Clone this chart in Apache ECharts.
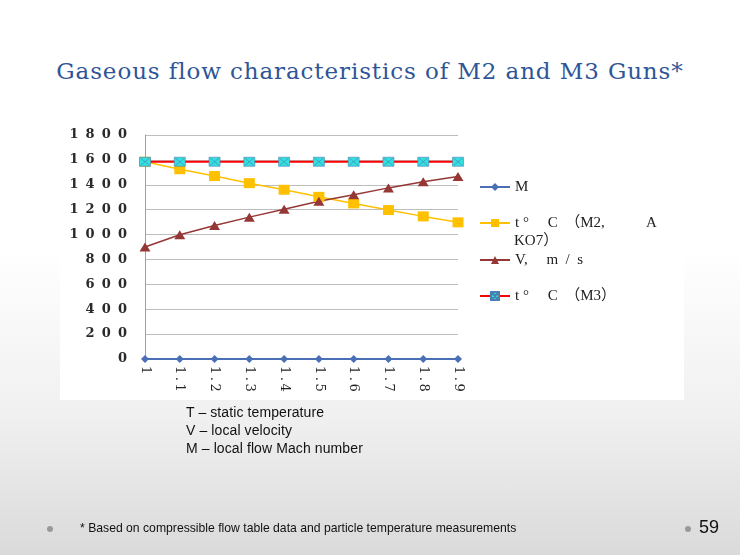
<!DOCTYPE html>
<html>
<head>
<meta charset="utf-8">
<script src="https://cdn.jsdelivr.net/npm/echarts@6/dist/echarts.min.js"></script>
<style>
  html, body { margin: 0; padding: 0; }
  body {
    width: 740px; height: 555px; overflow: hidden; position: relative;
    background: linear-gradient(to bottom, #ffffff 0%, #ffffff 45%, #f0f0f0 75%, #dadada 100%);
    font-family: "Liberation Sans", Arial, sans-serif;
  }
  #title {
    position: absolute; left: 0; width: 740px; top: 58px; text-align: center;
    font-family: "DejaVu Serif", "Liberation Serif", serif; font-size: 23px; color: #2e5597;
    letter-spacing: 0.9px;
  }
  #panel { position: absolute; left: 60px; top: 118px; width: 624px; height: 282px; background: #fff; }
  #chart { position: absolute; left: 0; top: 0; width: 740px; height: 555px; }
  .notes { position: absolute; left: 186px; top: 403px; font-size: 14px; line-height: 18px; color: #111; letter-spacing: 0.1px; }
  .foot { position: absolute; left: 80px; top: 521px; font-size: 12.2px; color: #111; }
  .dot { position: absolute; width: 6px; height: 6px; border-radius: 3px; background: #999; }
  .page { position: absolute; left: 699px; top: 517px; font-size: 18px; color: #111; }
</style>
</head>
<body>
<div id="title">Gaseous flow characteristics of M2 and M3 Guns*</div>
<div id="panel"></div>
<div id="chart"></div>
<div class="notes">T – static temperature<br>V – local velocity<br>M – local flow Mach number</div>
<div class="dot" style="left:47px;top:526px"></div>
<div class="foot">* Based on compressible flow table data and particle temperature measurements</div>
<div class="dot" style="left:685px;top:526px"></div>
<div class="page">59</div>
<script>
// Mach number categories
var categories = ['1', '1.1', '1.2', '1.3', '1.4', '1.5', '1.6', '1.7', '1.8', '1.9'];
var machVals = [0, 0, 0, 0, 0, 0, 0, 0, 0, 0];
var tempM2 = [1585, 1525, 1470, 1413, 1360, 1303, 1250, 1197, 1146, 1098];
var velocity = [900, 998, 1072, 1140, 1204, 1268, 1320, 1375, 1425, 1467];
var tempM3 = [1585, 1585, 1585, 1585, 1585, 1585, 1585, 1585, 1585, 1585];
var yTicks = [0, 200, 400, 600, 800, 1000, 1200, 1400, 1600, 1800];

var names = ['M', 't °\u3000 C  （M2,\u3000\u3000   A\nKO7）', 'V,\u3000 m  /  s', 't °\u3000 C  （M3）'];
var serif = '"Liberation Serif", "Noto Sans CJK SC", serif';
var digits = '"DejaVu Serif", serif';

// spread characters apart like the wide SimSun digits in the original
function spread(s, gap) { return s.split('').join(gap); }

var chart = echarts.init(document.getElementById('chart'), null, { renderer: 'canvas' });

function legendAt(name, top) {
  return {
    data: [name],
    left: 479, top: top, orient: 'vertical', padding: 0,
    itemWidth: 30, itemHeight: 10, itemGap: 0,
    // the wrapped entry shows its first line here, the second line is a graphic below
    formatter: function (n) { return n.split('\n')[0]; },
    textStyle: { fontFamily: serif, fontSize: 15, color: '#222', lineHeight: 18 }
  };
}

var option = {
  animation: false,
  backgroundColor: 'transparent',
  grid: { left: 145, right: 282, top: 135, bottom: 196 },
  legend: [
    legendAt(names[0], 178),
    legendAt(names[1], 214),
    legendAt(names[2], 251),
    legendAt(names[3], 287)
  ],
  graphic: [{
    type: 'text', left: 514, top: 234,
    style: { text: names[1].split('\n')[1], font: '15px ' + serif, fill: '#222' }
  }],
  xAxis: {
    type: 'category',
    data: categories,
    boundaryGap: false,
    axisLine: { show: true, lineStyle: { color: '#a0a0a0' } },
    axisTick: { show: false },
    axisLabel: {
      rotate: -90, margin: 7, fontFamily: digits, fontSize: 13, color: '#222',
      formatter: function (v) { return spread(v, '\u2009'); }
    }
  },
  yAxis: {
    type: 'value',
    min: 0, max: 1800, interval: 200,
    axisLine: { show: true, lineStyle: { color: '#a0a0a0' } },
    axisTick: { show: false },
    splitLine: { lineStyle: { color: '#bdbdbd' } },
    axisLabel: {
      margin: 18, fontFamily: digits, fontSize: 13, fontWeight: 'bold', color: '#2a2a2a',
      formatter: function (v) { return yTicks.indexOf(v) >= 0 ? spread(String(v), ' \u2009') : ''; }
    }
  },
  series: [
    {
      name: names[1], type: 'line', data: tempM2,
      symbol: 'rect', symbolSize: [11, 10],
      lineStyle: { color: '#ffc000', width: 1.5 },
      itemStyle: { color: '#ffc000' }
    },
    {
      name: names[2], type: 'line', data: velocity,
      symbol: 'triangle', symbolSize: [11, 9],
      lineStyle: { color: '#953735', width: 1.5 },
      itemStyle: { color: '#953735' }
    },
    {
      name: names[3], type: 'line', data: tempM3,
      symbol: 'path://M0,0L10,0L10,10L0,10Z M1,1L9,9 M9,1L1,9', symbolSize: [11, 9],
      lineStyle: { color: '#ff0000', width: 2 },
      itemStyle: { color: '#33e0e0', borderColor: '#4a7fb0', borderWidth: 0.6 }
    },
    {
      name: names[0], type: 'line', data: machVals,
      symbol: 'diamond', symbolSize: 8,
      lineStyle: { color: '#4a6fb7', width: 2 },
      itemStyle: { color: '#4a6fb7' }
    }
  ]
};
chart.setOption(option);
</script>
</body>
</html>
